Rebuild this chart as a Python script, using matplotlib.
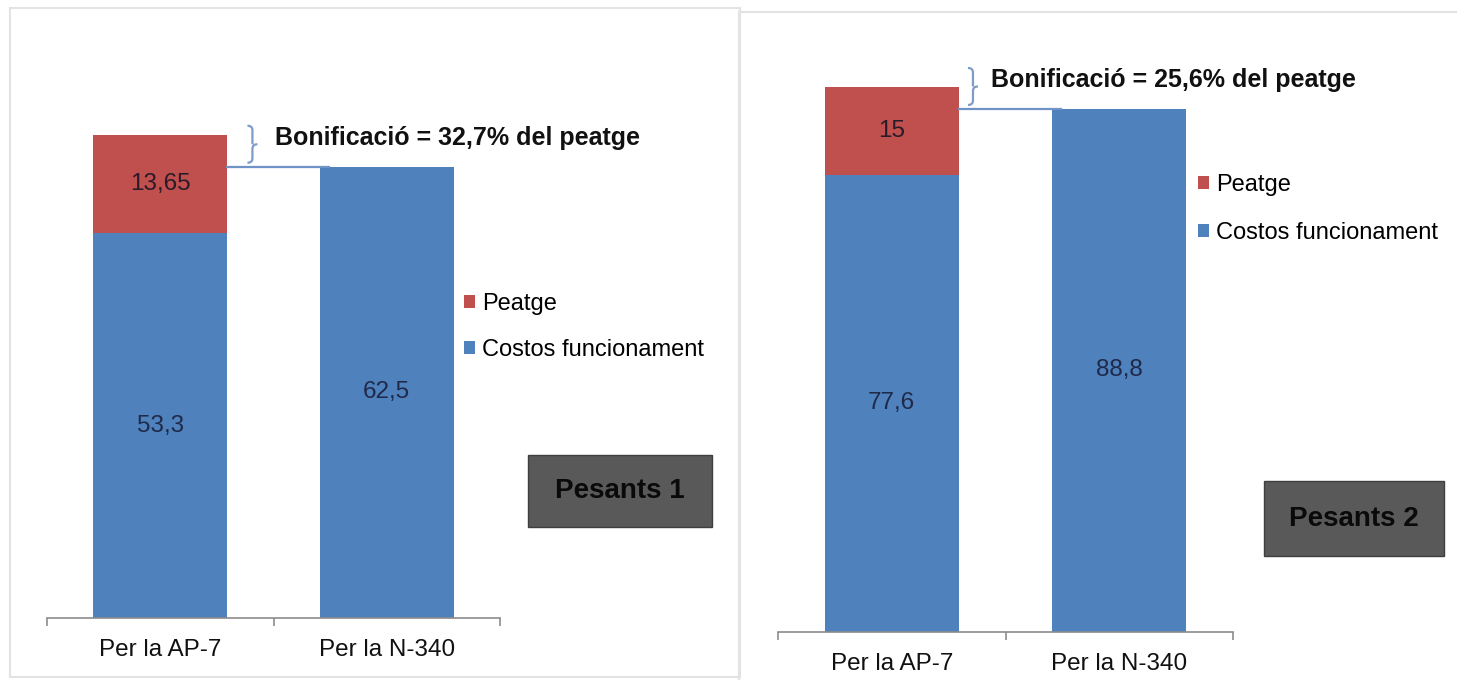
import matplotlib
matplotlib.use("Agg")
import matplotlib.pyplot as plt
from matplotlib.patches import Rectangle, PathPatch
from matplotlib.path import Path

plt.rcParams['font.family'] = ['Liberation Sans', 'DejaVu Sans']

categories = ["Per la AP-7", "Per la N-340"]
legend_labels = ["Peatge", "Costos funcionament"]

# Pesants 1
costos_1 = [53.3, 62.5]
peatge_1 = [13.65, 0]
bonif_1 = "Bonificació = 32,7% del peatge"

# Pesants 2
costos_2 = [77.6, 88.8]
peatge_2 = [15, 0]
bonif_2 = "Bonificació = 25,6% del peatge"

RED = "#C0504D"
BLUE = "#4F81BD"
W, H = 1457, 680

fig = plt.figure(figsize=(W / 100, H / 100), dpi=100)


def px_axes(x0, x1, ybase, ytop):
    return fig.add_axes([x0 / W, (H - ybase) / H, (x1 - x0) / W, (ybase - ytop) / H])


def brace(ax, x, y0, y1, w):
    # curly brace "}" drawn in data coords
    d = 0.12 * (y1 - y0)
    ym = (y0 + y1) / 2
    verts = [(x, y0), (x + w, y0), (x + w, y0 + d),
             (x + w, ym - d), (x + w, ym), (x + 2 * w, ym),
             (x + w, ym), (x + w, ym + d),
             (x + w, y1 - d), (x + w, y1), (x, y1)]
    codes = [Path.MOVETO, Path.CURVE3, Path.CURVE3, Path.LINETO, Path.CURVE3, Path.CURVE3,
             Path.MOVETO, Path.CURVE3, Path.LINETO, Path.CURVE3, Path.CURVE3]
    ax.add_patch(PathPatch(Path(verts, codes), fill=False, ec="#7f9cc9", lw=1.6, clip_on=False))


def panel(x0, x1, ybase, scale, costos, peatge, bonif, tag, leg_xy, box, brace_dx, text_dx, lspace):
    ytop = 15
    ax = px_axes(x0, x1, ybase, ytop)
    xs = range(len(categories))
    bw = 0.59
    b1 = ax.bar(xs, costos, width=bw, color=BLUE, label=legend_labels[1])
    b0 = ax.bar(xs, peatge, width=bw, bottom=costos, color=RED, label=legend_labels[0])
    for i in xs:
        ax.text(i, costos[i] / 2, f"{costos[i]:g}".replace(".", ","), ha="center", va="center",
                fontsize=17.5, color="#1f2a4a")
        if peatge[i]:
            ax.text(i, costos[i] + peatge[i] / 2, f"{peatge[i]:g}".replace(".", ","),
                    ha="center", va="center", fontsize=17.5, color="#2a1a2a")
    ax.set_xlim(-0.5, 1.5)
    ax.set_ylim(0, (ybase - ytop) / scale)
    for s in ["top", "right", "left"]:
        ax.spines[s].set_visible(False)
    ax.spines["bottom"].set_color("#8c8c8c")
    ax.spines["bottom"].set_linewidth(1.2)
    ax.set_yticks([])
    ax.set_xticks(list(xs))
    ax.set_xticklabels(categories, fontsize=17.5, color="#111111")
    ax.tick_params(axis="x", length=0, pad=15)
    ax.set_xticks([-0.5, 0.5, 1.5], minor=True)
    ax.tick_params(axis="x", which="minor", length=6, width=1.2, color="#8c8c8c")

    # bonus bracket and link line
    px = 1 / scale
    ax.plot([bw / 2, 1 - bw / 2 + 0.04], [costos[1], costos[1]], color="#6f93c6", lw=1.6,
            clip_on=False)
    y0 = costos[1] + 4 * px
    y1 = y0 + 37 * px
    brace(ax, bw / 2 + brace_dx, y0, y1, 0.022)
    ax.text(bw / 2 + text_dx, (y0 + y1) / 2 + 6 * px, bonif, fontsize=18, fontweight="bold",
            ha="left", va="center", color="#111111")

    fig.legend(handles=[b0, b1], labels=legend_labels, loc="upper left",
               bbox_to_anchor=(leg_xy[0] / W, 1 - leg_xy[1] / H), frameon=False,
               fontsize=17, handlelength=0.45, handleheight=0.45, handletextpad=0.3,
               labelspacing=lspace, borderaxespad=0, borderpad=0)
    bx0, by0, bx1, by1 = box
    fig.patches.append(Rectangle((bx0 / W, 1 - by1 / H), (bx1 - bx0) / W, (by1 - by0) / H,
                                 transform=fig.transFigure, fc="#595959", ec="#3f3f3f", lw=1))
    fig.text((bx0 + bx1) / 2 / W, 1 - (by0 + by1) / 2 / H, tag, ha="center", va="center",
             fontsize=20, fontweight="bold", color="#0a0a0a")
    return ax


# panel frames
fig.patches.append(Rectangle((10 / W, 1 - 677 / H), 730 / W, 669 / H, transform=fig.transFigure,
                             fill=False, ec="#e3e3e3", lw=1.5))
fig.patches.append(Rectangle((739 / W, 1 - 682 / H), 720 / W, 670 / H, transform=fig.transFigure,
                             fill=False, ec="#e3e3e3", lw=1.5))

panel(47, 500, 618, 7.22, costos_1, peatge_1, bonif_1, "Pesants 1",
      (464, 293), (528, 455, 712, 527), 0.09, 0.21, 1.0)
panel(778, 1233, 632, 5.89, costos_2, peatge_2, bonif_2, "Pesants 2",
      (1198, 174), (1264, 481, 1444, 556), 0.04, 0.14, 1.1)

fig.savefig("out.png", dpi=100)
